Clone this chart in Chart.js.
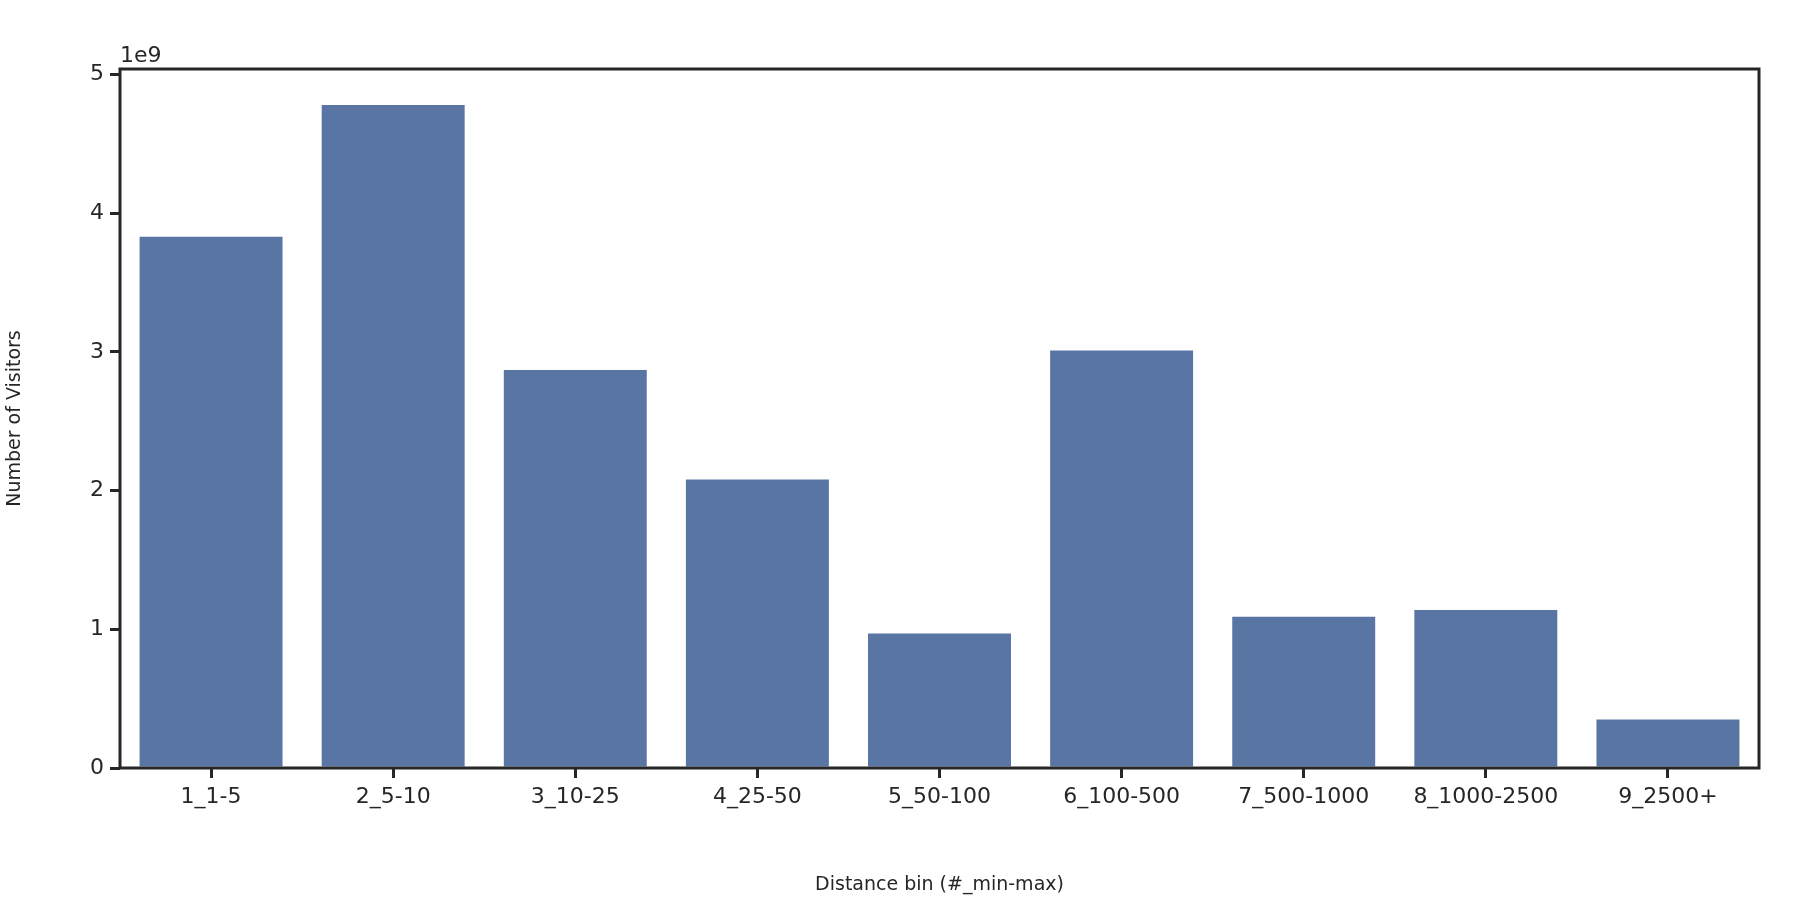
<!DOCTYPE html>
<html>
<head>
<meta charset="utf-8">
<script src="https://cdn.jsdelivr.net/npm/chart.js@4/dist/chart.umd.min.js"></script>
<style>
  body { margin: 0; background: #fff; }
  #wrap { width: 1800px; height: 900px; }
</style>
</head>
<body>
<div id="wrap"><canvas id="chart" width="1800" height="900"></canvas></div>
<script>
// Data
const categories = ['1_1-5', '2_5-10', '3_10-25', '4_25-50', '5_50-100', '6_100-500', '7_500-1000', '8_1000-2500', '9_2500+'];
const visitors = [3.83e9, 4.78e9, 2.87e9, 2.08e9, 0.97e9, 3.01e9, 1.09e9, 1.14e9, 0.35e9];
const yTicks = [0, 1e9, 2e9, 3e9, 4e9, 5e9];

const ink = '#262626';
const font = 'DejaVu Sans';

// Frame around the plot area plus the "1e9" offset label
const framePlugin = {
    id: 'frame',
    afterDraw(chart) {
        const { ctx, chartArea: a } = chart;
        ctx.save();
        ctx.strokeStyle = ink;
        ctx.lineWidth = 3;
        ctx.strokeRect(a.left, a.top, a.right - a.left, a.bottom - a.top);
        ctx.fillStyle = ink;
        ctx.font = '22px "' + font + '"';
        ctx.textBaseline = 'bottom';
        ctx.fillText('1e9', a.left, a.top - 2);
        ctx.restore();
    }
};

new Chart(document.getElementById('chart'), {
    type: 'bar',
    data: {
        labels: categories,
        datasets: [{
            data: visitors,
            backgroundColor: '#5975a4',
            categoryPercentage: 1,
            barPercentage: 0.785
        }]
    },
    options: {
        responsive: false,
        animation: false,
        layout: { padding: { top: 69, right: 41, left: 0, bottom: 0 } },
        plugins: { legend: { display: false }, tooltip: { enabled: false } },
        scales: {
            x: {
                grid: { drawOnChartArea: false, color: ink, lineWidth: 3, tickLength: 10, offset: false },
                border: { display: false },
                ticks: { color: ink, font: { family: font, size: 22 }, maxRotation: 0, autoSkip: false, padding: 6 },
                title: { display: true, text: 'Distance bin (#_min-max)', color: ink, font: { family: font, size: 19 }, padding: { top: 4 } },
                afterFit(scale) { scale.height = 132; }
            },
            y: {
                min: 0,
                max: 5.04e9,
                afterBuildTicks(scale) { scale.ticks = yTicks.map(v => ({ value: v })); },
                grid: { drawOnChartArea: false, color: ink, lineWidth: 3, tickLength: 10 },
                border: { display: false },
                ticks: { color: ink, font: { family: font, size: 22 }, padding: 6, callback: v => String(v / 1e9) },
                title: { display: true, text: 'Number of Visitors', color: ink, font: { family: font, size: 19 } },
                afterFit(scale) { scale.width = 120; }
            }
        }
    },
    plugins: [framePlugin]
});
</script>
</body>
</html>
